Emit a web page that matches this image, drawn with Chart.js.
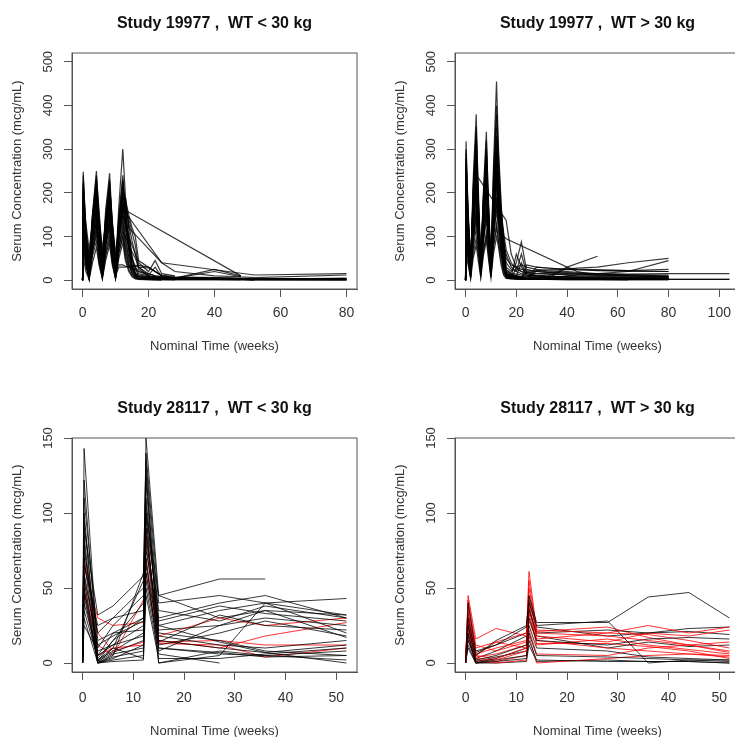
<!DOCTYPE html>
<html>
<head>
  <meta charset="utf-8">
  <title>Serum Concentration vs Nominal Time</title>
  <script src="https://cdn.jsdelivr.net/npm/chart.js"></script>
  <style>
    body { margin: 0; padding: 0; background: #ffffff; }
    #page { position: relative; width: 735px; height: 737px; overflow: hidden; background: #ffffff; }
    .panel { position: absolute; width: 367px; height: 370px; }
  </style>
</head>
<body>
  <div id="page">
    <div class="panel" style="left:0px;top:0px"><canvas id="c1" width="367" height="370"></canvas></div>
    <div class="panel" style="left:383px;top:0px"><canvas id="c2" width="367" height="370"></canvas></div>
    <div class="panel" style="left:0px;top:385px"><canvas id="c3" width="367" height="370"></canvas></div>
    <div class="panel" style="left:383px;top:385px"><canvas id="c4" width="367" height="370"></canvas></div>
  </div>

  <script>
    // ---- data ----
    const xTitle = 'Nominal Time (weeks)';
    const yTitle = 'Serum Concentration (mcg/mL)';

    // Study 19977, WT < 30 kg
    const p1Title = 'Study 19977 ,  WT < 30 kg';
    const p1XTicks = [0, 20, 40, 60, 80];
    const p1YTicks = [0, 100, 200, 300, 400, 500];
    const p1Times = [0, 0.2, 1, 2, 3, 4.2, 5, 6, 7, 8.2, 9, 10, 11, 12.2, 13, 14, 15, 16, 17, 20, 22, 24, 28, 40, 48, 52, 80];
    const p1Subjects = [
      [0, 248, 110, 30, 120, 160, 100, 25, 90, 150, 85, 22, 95, 170, 120, 70, 30, 15, 8, 5, 4, 3, null, null, 2, 1, null],
      [0, 210, 90, 15, 150, 250, 140, 30, 160, 245, 130, 30, 170, 300, 190, 120, 50, 15, 10, 8, 6, 5, 4, 3, 2, null, null],
      [0, 180, 75, 10, 110, 200, 105, 15, 120, 190, 95, 12, 130, 210, 150, 90, 35, 12, 8, 6, 5, 4, 3, 2, 2, 1, 1],
      [0, 150, 60, 6, 100, 170, 80, 10, 100, 160, 70, 8, 110, 180, 130, 70, 25, 10, 5, 4, 3, 2, null, null, null, null, null],
      [0, 120, 50, 4, 80, 140, 70, 8, 120, 200, 110, 20, 100, 160, 160, null, null, null, null, null, null, null, null, null, 10, null, null],
      [0, 225, 120, 40, 140, 230, 150, 50, 140, 220, 140, 45, 130, 195, 185, 150, 120, 100, 45, 30, 20, 10, 6, 5, 4, 3, 2],
      [0, 100, 40, 3, 60, 120, 55, 5, 65, 110, 50, 5, 75, 130, 80, 40, 15, 5, 3, 2, 2, 1, null, null, null, null, null],
      [0, 200, 130, 70, 130, 190, 140, 75, 125, 180, 130, 65, 110, 150, 130, 100, 80, 60, 40, 20, 45, 15, 10, null, null, null, null],
      [0, 170, 90, 25, 130, 210, 110, 30, 140, 230, 115, 28, 150, 240, 170, 90, 45, 30, 20, 12, 30, 8, 5, 20, 8, 6, 12],
      [0, 130, 55, 12, 110, 180, 85, 20, 105, 170, 80, 18, 115, 190, 190, 120, null, null, null, null, null, 40, null, null, null, 12, 15],
      [0, 90, 35, 5, 65, 110, 45, 8, 60, 100, 45, 5, 70, 120, 60, 30, 32, 34, 34, 30, 20, 12, 8, 6, 5, 4, 3],
      [0, 240, 120, 45, 150, 240, 160, 55, 135, 210, 130, 45, 125, 200, 140, 90, 50, 30, 15, 10, 8, 6, 5, 25, 10, null, null],
      [0, 160, 65, 15, 95, 150, 75, 18, 85, 140, 65, 15, 90, 150, 100, 55, 25, 10, 5, 4, 3, 3, 2, 2, 2, 2, 5],
      [0, 80, 30, 4, 55, 90, 40, 6, 55, 90, 40, 4, 60, 100, 50, 25, 10, 5, 3, null, null, null, null, null, null, null, null],
      [0, 190, 95, 20, 140, 230, 120, 25, 125, 200, 105, 22, 110, 175, 170, 140, 110, 80, 30, 15, 10, 8, 6, 4, 3, 2, 1],
      [0, 140, 65, 10, 75, 120, 65, 12, 80, 130, 60, 10, 30, 30, 30, 32, 33, 33, 30, 28, 20, 10, 5, 4, 3, 2, null],
      [0, 220, 105, 35, 125, 200, 125, 35, 120, 190, 110, 38, 135, 220, 175, 130, 90, 60, 25, 10, 8, 6, 5, 5, 4, 3, 2],
      [0, 110, 45, 6, 100, 160, 75, 10, 95, 150, 75, 12, 90, 140, 90, 50, 20, 8, 4, 3, 2, 2, 1, 1, 1, null, null],
      [0, 60, 100, 60, 70, 100, 100, 60, 80, 120, 95, 50, 80, 110, 100, 80, 65, 50, 30, 10, 5, 4, 3, 2, 2, 1, 1],
      [0, 205, 85, 20, 115, 185, 95, 22, 110, 175, 90, 20, 100, 165, 155, null, null, null, null, null, null, 40, 20, 10, 8, null, null],
      [0, 175, 75, 16, 120, 195, 105, 20, 115, 185, 100, 25, 125, 205, 145, 75, 35, 18, 9, 6, 5, 5, 4, 3, 3, null, 4],
      [0, 95, 40, 4, 85, 135, 65, 9, 80, 125, 55, 8, 65, 100, 70, 35, 15, 6, 3, 2, 1, 1, null, null, null, null, null],
      [0, 135, 60, 8, 90, 155, 85, 14, 100, 165, 90, 16, 105, 175, 120, 75, 30, 12, 6, 4, 3, 2, 2, 2, 1, 1, null],
      [0, 55, 20, 2, 40, 75, 35, 3, 45, 80, 35, 3, 50, 85, 45, 20, 8, 3, 2, 1, 1, 1, 1, null, null, null, null],
      [0, 195, 100, 30, 145, 215, 130, 40, 150, 225, 125, 35, 140, 230, 160, 100, 55, 25, 12, 8, 6, 5, 4, 4, 3, 3, 3],
      [0, 115, 70, 25, 90, 130, 90, 30, 95, 135, 90, 28, 35, 35, 32, 30, 28, 25, 20, 15, 10, 8, 6, 5, 4, null, null]
    ];

    // Study 19977, WT > 30 kg
    const p2Title = 'Study 19977 ,  WT > 30 kg';
    const p2XTicks = [0, 20, 40, 60, 80, 100];
    const p2YTicks = [0, 100, 200, 300, 400, 500];
    const p2Times = [0, 0.2, 1, 2, 3, 4.2, 5, 6, 7, 8.2, 9, 10, 11, 12.2, 13, 14, 15, 16, 18, 20, 22, 24, 28, 32, 40, 44, 52, 64, 80, 104];
    const p2Subjects = [
      [0, 318, 150, 30, 160, 280, 150, 28, 150, 260, 130, 22, 170, 300, 190, 110, 40, 10, 6, 5, 4, 3, 3, 2, 2, 2, 2, 1, 1, null],
      [0, 270, 120, 18, 230, 380, 190, 30, 200, 340, 170, 25, 260, 455, 300, 180, 80, 15, 10, 8, 6, 5, 4, 3, 3, 3, 2, 2, 2, 2],
      [0, 200, 95, 14, 140, 240, 120, 20, 130, 220, 110, 18, 150, 250, 170, 100, 45, 12, 8, 6, 5, 4, 4, 3, 3, 2, 2, 2, 2, null],
      [0, 100, 60, 12, 120, 240, 235, null, null, null, null, null, null, null, null, null, null, 137, 60, 30, 20, 15, 12, 10, 8, 6, 5, 4, 3, null],
      [0, 180, 100, 28, 130, 220, 130, 35, 125, 200, 120, 30, 140, 230, 160, 120, 100, 95, null, null, null, null, null, null, 30, null, 55, null, null, null],
      [0, 240, 115, 20, 180, 300, 160, 28, 175, 290, 150, 26, 210, 350, 230, 130, 60, 14, 9, 7, 5, 4, 30, 28, 25, 28, 30, 40, 50, null],
      [0, 120, 55, 6, 90, 150, 80, 10, 85, 140, 70, 8, 95, 160, 110, 60, 25, 6, 4, 3, 3, 2, 2, 2, 1, 1, 1, 1, null, null],
      [0, 280, 140, 30, 160, 260, 170, 40, 150, 240, 150, 35, 160, 270, 210, 140, 80, 30, 20, 40, 88, 25, 20, 18, 15, 14, 12, 10, 8, null],
      [0, 220, 100, 15, 120, 200, 115, 18, 180, 300, 150, 20, 190, 320, 220, 120, 50, 12, 8, 6, 5, 20, 22, 20, 18, 16, 15, 14, 15, 15],
      [0, 160, 80, 10, 200, 330, 160, 20, 150, 250, 130, 16, 170, 280, 180, 95, 35, 8, 5, 4, 3, 3, 2, 2, 2, 2, 2, 2, 2, 2],
      [0, 90, 45, 5, 70, 120, 65, 8, 65, 110, 60, 6, 80, 130, 85, 45, 15, 5, 3, 30, 35, 30, 25, 22, 20, 18, 15, 12, 10, null],
      [0, 260, 150, 45, 170, 280, 190, 50, 165, 270, 175, 45, 180, 300, 240, 150, 90, 40, 25, 20, 60, 18, 15, 14, 13, 12, 11, 10, 9, null],
      [0, 190, 90, 12, 140, 230, 115, 16, 125, 210, 105, 15, 145, 240, 150, 80, 30, 9, 6, 5, 4, 35, 30, 28, 25, 24, 22, 20, 20, null],
      [0, 140, 65, 7, 100, 170, 90, 12, 95, 160, 85, 10, 110, 180, 130, 70, 25, 7, 5, 4, 3, 3, 2, 2, 2, 2, 2, 2, null, null],
      [0, 300, 165, 38, 210, 350, 215, 45, 190, 320, 190, 40, 240, 400, 280, 170, 90, 25, 15, 10, 8, 7, 6, 5, 5, 5, 5, 6, 5, null],
      [0, 230, 105, 16, 155, 260, 140, 22, 150, 250, 130, 20, 130, 220, 170, 105, 45, 18, 12, 9, 40, 10, 8, 7, 6, 5, 5, 4, 4, null],
      [0, 110, 60, 30, 85, 140, 95, 35, 90, 150, 100, 30, 100, 170, 135, 110, 80, 60, 30, 20, 15, 12, 10, 9, 8, 7, 6, 5, 5, null],
      [0, 250, 115, 20, 185, 310, 170, 30, 170, 280, 155, 28, 200, 330, 215, 110, 40, 10, 6, 5, 4, 3, 3, 3, 28, 26, 24, 22, 20, null],
      [0, 170, 75, 9, 115, 190, 100, 14, 110, 180, 95, 12, 120, 200, 140, 70, 25, 8, 5, 4, 3, 3, 2, 2, 10, 12, 15, 20, 45, null],
      [0, 210, 95, 13, 150, 250, 125, 18, 140, 230, 120, 16, 155, 260, 180, 85, 30, 6, 4, 3, 3, 2, 2, 2, 2, 2, 2, 2, 2, null],
      [0, 130, 70, 15, 95, 160, 90, 20, 100, 170, 95, 18, 115, 190, 140, 80, 35, 14, 10, 8, 6, 5, 4, 4, 3, 3, 3, 3, 3, null],
      [0, 290, 135, 25, 205, 340, 180, 35, 180, 300, 170, 30, 230, 380, 260, 145, 60, 20, 12, 9, 7, 6, 5, 5, 4, 4, 4, 4, 4, null],
      [0, 60, 35, 4, 50, 80, 45, 6, 55, 90, 50, 5, 60, 100, 75, 35, 12, 4, 3, 2, 2, 2, 22, 24, 25, 24, 23, 22, 25, null],
      [0, 185, 85, 11, 130, 215, 110, 15, 125, 205, 100, 14, 135, 225, 160, 90, 35, 12, 8, 60, 30, 15, 10, 8, 30, 20, 12, 10, 8, null],
      [0, 150, 90, 40, 120, 200, 130, 45, 130, 210, 140, 50, 150, 250, 200, 150, 100, 50, 35, 30, 25, 22, 20, 18, 16, 15, 14, 13, 12, null],
      [0, 250, 140, 60, 175, 260, 160, 60, 170, 250, 155, 55, 180, 280, 220, 160, 110, 70, 40, 25, 20, 18, 16, 15, 12, 10, 9, 8, 7, null],
      [0, 75, 50, 20, 60, 95, 60, 22, 65, 100, 65, 20, 75, 120, 90, 60, 30, 15, 12, 10, 9, 8, 7, 6, 5, 5, 4, 4, 3, null],
      [0, 205, 110, 35, 145, 235, 135, 40, 140, 230, 130, 38, 165, 270, 190, 115, 55, 22, 16, 14, 12, 11, 10, 9, 8, 8, 7, 6, 6, null]
    ];

    // Study 28117, WT < 30 kg  ('k' = black, 'r' = red)
    const p3Title = 'Study 28117 ,  WT < 30 kg';
    const p3XTicks = [0, 10, 20, 30, 40, 50];
    const p3YTicks = [0, 50, 100, 150];
    const p3Times = [0, 0.3, 3, 6, 12, 12.5, 15, 27, 36, 52];
    const p3Subjects = [
      [0, 143, 5, 20, 30, 150, 45, 56, 56, null],
      [0, 122, 2, 10, 55, 140, 40, 45, 40, 32],
      [0, 100, 0, 5, 60, 135, 30, 40, 45, 30],
      [0, 85, 1, 15, 40, 125, 25, 35, 40, 43],
      [0, 90, 32, 38, 58, 100, 45, 30, 35, 32],
      [0, 75, 20, 30, 50, 95, 35, 28, 38, 30],
      [0, 60, 10, 25, 45, 85, 22, 25, 30, 25],
      [0, 55, 0, 3, 12, 120, 15, 10, 7, 12],
      [0, 50, 2, 8, 20, 80, 10, 6, 5, 8],
      [0, 45, 0, 2, 5, 70, 0, 5, 40, 20],
      [0, 40, 5, 12, 25, 60, 12, 20, 28, 18],
      [0, 70, 0, 6, 10, 110, 20, 15, 8, 5],
      [0, 35, 3, 15, 30, 65, 18, 12, 10, 15],
      [0, 30, 0, 4, 8, 50, 6, 0, null, null],
      [0, 95, 1, 7, 15, 90, 14, 32, 25, 22],
      [0, 65, 25, 30, 35, 75, 28, 38, 33, 28],
      [0, 80, 0, 10, 3, 100, 0, 8, 5, 2],
      [0, 110, 15, 20, 22, 130, 8, 25, 35, 17],
      [0, 25, 8, 12, 18, 55, 10, 7, 4, 5],
      [0, 48, 0, 1, 2, 45, 3, 3, 6, 10],
      [0, 58, 12, 18, 28, 105, 25, 14, 7, 0],
      [0, 65, 30, 25, 27, 90, 18, 30, 25, 30],
      [0, 48, 12, 5, 42, 70, 14, 15, 12, 12],
      [0, 70, 20, 8, 14, 85, 15, 10, 18, 27],
      [0, 55, 5, 10, 12, 60, 13, 12, 4, 10]
    ];
    const p3Colors = ['k','k','k','k','k','k','k','k','k','k','k','k','k','k','k','k','k','k','k','k','k','r','r','r','r'];

    // Study 28117, WT > 30 kg
    const p4Title = 'Study 28117 ,  WT > 30 kg';
    const p4XTicks = [0, 10, 20, 30, 40, 50];
    const p4YTicks = [0, 50, 100, 150];
    const p4Times = [0, 0.5, 2, 6, 12, 12.5, 14, 28, 36, 44, 52];
    const p4Subjects = [
      [0, 40, 8, 12, 24, 45, 27, 27, 44, 47, 30],
      [0, 30, 5, 15, 25, 40, 25, 28, 0, 2, 1],
      [0, 45, 16, 23, 18, 61, 22, 20, 25, 20, 24],
      [0, 38, 10, 14, 20, 50, 20, 18, 15, 12, 8],
      [0, 25, 2, 5, 12, 35, 20, 22, 20, 23, 24],
      [0, 30, 5, 3, 10, 45, 18, 14, 20, 18, 22],
      [0, 20, 0, 3, 10, 30, 15, 12, 16, 17, 16],
      [0, 22, 3, 2, 8, 38, 12, 16, 12, 9, 6],
      [0, 15, 1, 4, 8, 25, 10, 8, 4, 3, 2],
      [0, 35, 6, 10, 15, 40, 16, 20, 19, 15, 10],
      [0, 18, 0, 2, 5, 20, 5, 4, 3, 2, 2],
      [0, 28, 4, 6, 12, 28, 15, 10, 8, 6, 5],
      [0, 12, 0, 1, 3, 15, 2, 1, 1, 1, 0],
      [0, 42, 12, 8, 14, 55, 21, 24, 17, 12, 7],
      [0, 26, 3, 8, 18, 42, 24, 18, 20, 21, 19],
      [0, 20, 2, 1, 5, 22, 6, 5, 10, 12, 14],
      [0, 33, 7, 12, 20, 37, 18, 10, 14, 11, 12],
      [0, 16, 1, 0, 2, 18, 0, 3, 5, 6, 4],
      [0, 10, 0, 0, 1, 12, 1, 2, 1, 1, 0],
      [0, 24, 5, 14, 10, 33, 13, 13, 11, 8, 3]
    ];
    const p4Colors = ['k','k','r','r','k','r','k','r','k','r','k','r','k','r','k','r','k','r','k','r'];

    // ---- styling ----
    const FONT = '"Liberation Sans", Arial, Helvetica, sans-serif';
    const BLACK = 'rgba(0, 0, 0, 0.78)';
    const RED = 'rgba(255, 0, 0, 0.8)';
    const AXIS = '#555555';
    const TEXT = '#333333';
    Chart.defaults.font.family = FONT;

    // R-style box around the plot region
    const boxPlugin = {
      id: 'rBox',
      afterDraw(chart) {
        const a = chart.chartArea, ctx = chart.ctx;
        ctx.save();
        ctx.strokeStyle = AXIS;
        ctx.lineWidth = 1;
        ctx.strokeRect(a.left, a.top, a.right - a.left, a.bottom - a.top);
        ctx.restore();
      }
    };

    // y tick labels rotated like R (las = 0)
    const yLabelPlugin = {
      id: 'rYLabels',
      afterDraw(chart) {
        const ys = chart.scales.y, ctx = chart.ctx;
        ctx.save();
        ctx.font = '13px ' + FONT;
        ctx.fillStyle = TEXT;
        ctx.textAlign = 'center';
        ctx.textBaseline = 'middle';
        ys.ticks.forEach(t => {
          ctx.save();
          ctx.translate(chart.chartArea.left - 24, ys.getPixelForValue(t.value));
          ctx.rotate(-Math.PI / 2);
          ctx.fillText(String(t.value), 0, 0);
          ctx.restore();
        });
        ctx.restore();
      }
    };

    function buildSets(times, subjects, colors, width) {
      return subjects.map((vals, i) => ({
        data: vals.map((v, j) => (v === null ? null : { x: times[j], y: v })).filter(p => p),
        borderColor: colors && colors[i] === 'r' ? RED : BLACK,
        borderWidth: width,
        showLine: true,
        pointRadius: 0,
        tension: 0
      }));
    }

    function makePanel(id, title, times, subjects, colors, xr, xTicks, yr, yTicks, xAxisH, tickPad, width) {
      new Chart(document.getElementById(id), {
        type: 'scatter',
        data: { datasets: buildSets(times, subjects, colors, width) },
        options: {
          responsive: false,
          animation: false,
          events: [],
          layout: { padding: { left: 0, right: 10, top: 0, bottom: 0 } },
          plugins: {
            legend: { display: false },
            tooltip: { enabled: false },
            title: {
              display: true,
              text: title,
              fullSize: false,
              color: '#111111',
              font: { size: 16, weight: 'bold' },
              padding: { top: 14, bottom: 19.8 }
            }
          },
          scales: {
            x: {
              type: 'linear',
              min: xr[0],
              max: xr[1],
              afterBuildTicks: s => { s.ticks = xTicks.map(v => ({ value: v })); },
              afterFit: s => { s.height = xAxisH; },
              grid: { drawOnChartArea: false, drawTicks: true, tickLength: 8, color: AXIS },
              border: { display: true, color: AXIS },
              ticks: { color: TEXT, font: { size: 14 }, padding: tickPad, maxRotation: 0 },
              title: { display: true, text: xTitle, color: TEXT, font: { size: 13 }, padding: { top: 0, bottom: 16.2 } }
            },
            y: {
              type: 'linear',
              min: yr[0],
              max: yr[1],
              afterBuildTicks: s => { s.ticks = yTicks.map(v => ({ value: v })); },
              afterFit: s => { s.width = 72; },
              grid: { drawOnChartArea: false, drawTicks: true, tickLength: 8, color: AXIS },
              border: { display: true, color: AXIS },
              ticks: { display: false },
              title: { display: true, text: yTitle, color: TEXT, font: { size: 13 }, padding: { top: 9.2, bottom: 0 } }
            }
          }
        },
        plugins: [boxPlugin, yLabelPlugin]
      });
    }

    makePanel('c1', p1Title, p1Times, p1Subjects, null, [-3.2, 83.2], p1XTicks, [-20, 520], p1YTicks, 81, 8, 1.2);
    makePanel('c2', p2Title, p2Times, p2Subjects, null, [-4.16, 108.16], p2XTicks, [-20, 520], p2YTicks, 81, 8, 1.2);
    makePanel('c3', p3Title, p3Times, p3Subjects, p3Colors, [-2.08, 54.08], p3XTicks, [-6, 150], p3YTicks, 83, 10, 1);
    makePanel('c4', p4Title, p4Times, p4Subjects, p4Colors, [-2.08, 54.08], p4XTicks, [-6, 150], p4YTicks, 83, 10, 1);
  </script>
</body>
</html>
